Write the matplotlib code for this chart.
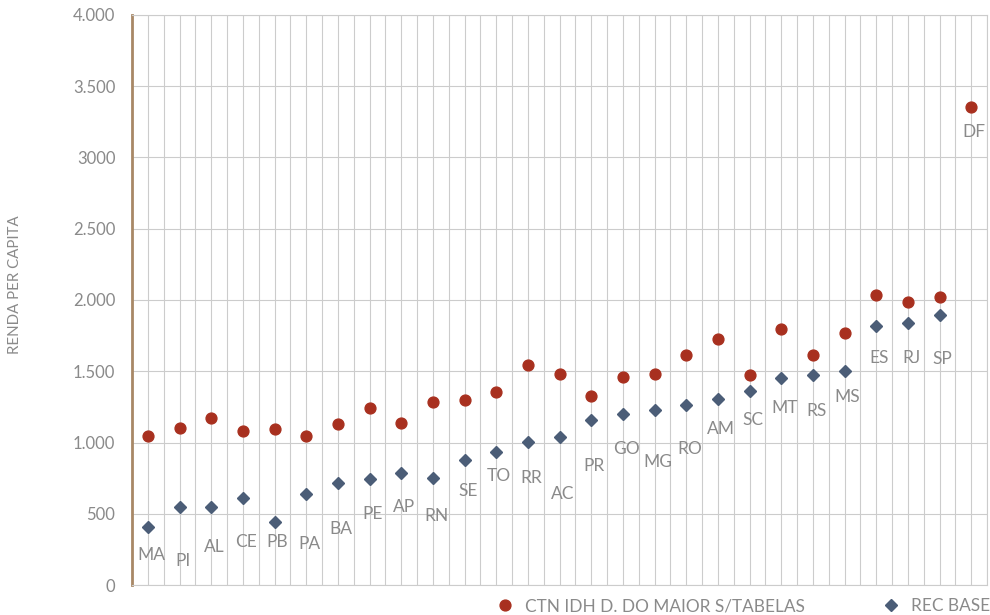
import matplotlib.pyplot as plt
import numpy as np
from matplotlib.lines import Line2D
from matplotlib.ticker import FixedLocator, MultipleLocator

STATES = ["MA", "PI", "AL", "CE", "PB", "PA", "BA", "PE", "AP", "RN", "SE", "TO", "RR", "AC",
          "PR", "GO", "MG", "RO", "AM", "SC", "MT", "RS", "MS", "ES", "RJ", "SP", "DF"]

# CTN IDH D. DO MAIOR S/TABELAS
CTN = [1046, 1105, 1170, 1081, 1098, 1044, 1131, 1245, 1138, 1283, 1297, 1355, 1543, 1484,
       1325, 1463, 1482, 1613, 1725, 1477, 1798, 1617, 1770, 2032, 1985, 2018, 3355]

# REC BASE (no value for DF)
REC = [410, 546, 550, 611, 440, 639, 719, 742, 784, 754, 880, 934, 1007, 1037,
       1159, 1203, 1229, 1264, 1304, 1364, 1456, 1473, 1503, 1821, 1840, 1898, np.nan]

# where each state label sits, in data units
LABEL_Y = [211, 171, 269, 300, 302, 290, 391, 496, 550, 487, 662, 765, 754, 639,
           836, 957, 866, 953, 1096, 1157, 1245, 1224, 1322, 1592, 1592, 1587, 3179]

Y_TICKS = [0, 500, 1000, 1500, 2000, 2500, 3000, 3500, 4000]
Y_TICK_LABELS = ["0", "500", "1.000", "1.500", "2.000", "2.500", "3000", "3.500", "4.000"]

RED = "#a8301f"
BLUE = "#4b5d77"
TEXT = "#8a8a8a"
GRID = "#cccccc"
SPINE = "#a88866"

plt.rcParams["font.family"] = ["Lato", "DejaVu Sans"]

fig = plt.figure(figsize=(9.9, 6.15), dpi=100)
ax = fig.add_axes([132 / 990, 30 / 615, 855 / 990, 570 / 615])

x = np.arange(len(STATES))
ax.plot(x, CTN, "o", color=RED, markersize=7.8, zorder=3)
ax.plot(x, REC, "D", color=BLUE, markersize=5.8, zorder=3)

for xi, label, ly in zip(x, STATES, LABEL_Y):
    ax.text(xi + 0.1, ly, label, ha="center", va="center", fontsize=12.5,
            color=TEXT, zorder=4)

ax.set_xlim(-0.5, len(STATES) - 0.5)
ax.set_ylim(0, 4000)

ax.yaxis.set_major_locator(FixedLocator(Y_TICKS))
ax.set_yticklabels(Y_TICK_LABELS)
ax.xaxis.set_major_locator(MultipleLocator(0.5))
ax.set_xticklabels([])
ax.tick_params(axis="both", length=0, labelsize=12, labelcolor=TEXT, pad=12)

ax.grid(True, color=GRID, linewidth=0.8, zorder=0)
ax.set_axisbelow(True)

for side in ["top", "right", "bottom"]:
    ax.spines[side].set_color(GRID)
    ax.spines[side].set_linewidth(0.8)
ax.spines["left"].set_color(SPINE)
ax.spines["left"].set_linewidth(2)

fig.text(15 / 990, 1 - 285 / 615, "RENDA PER CAPITA", rotation=90, ha="center",
         va="center", fontsize=10.8, color=TEXT)

handles = [
    Line2D([], [], marker="o", color=RED, linestyle="none", markersize=7.8),
    Line2D([], [], marker="D", color=BLUE, linestyle="none", markersize=5.8),
]
fig.legend(handles, ["CTN IDH D. DO MAIOR S/TABELAS", "REC BASE"], ncol=2,
           loc="center right", bbox_to_anchor=(1.0, 9 / 615), frameon=False,
           fontsize=12.4, labelcolor=TEXT, handlelength=0.8, handletextpad=0.75,
           columnspacing=4.6, borderaxespad=0, borderpad=0)

fig.savefig("out.png", dpi=100)
